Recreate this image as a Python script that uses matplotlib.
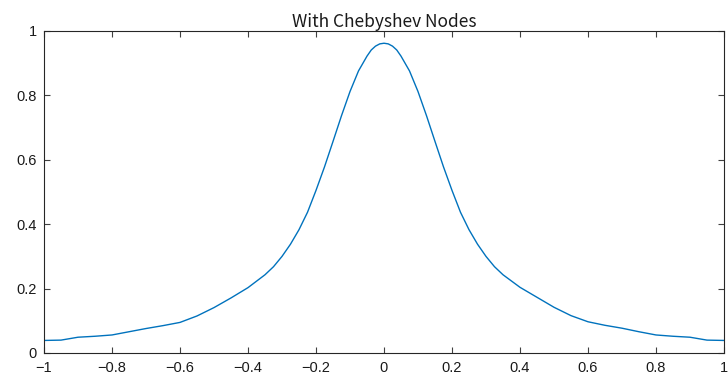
import matplotlib
matplotlib.use("Agg")
import matplotlib.pyplot as plt

# Interpolant of the Runge function sampled at Chebyshev nodes
x_vals = [-1.00, -0.95, -0.90, -0.85, -0.80, -0.75, -0.70, -0.65, -0.60, -0.55,
          -0.50, -0.45, -0.40, -0.35, -0.325, -0.30, -0.275, -0.25, -0.225, -0.20,
          -0.175, -0.15, -0.125, -0.10, -0.075, -0.05, -0.0375, -0.025, -0.0125, 0.00,
          0.0125, 0.025, 0.0375, 0.05, 0.075, 0.10, 0.125, 0.15, 0.175, 0.20, 0.225, 0.25,
          0.275, 0.30, 0.325, 0.35, 0.40, 0.45, 0.50, 0.55, 0.60, 0.65,
          0.70, 0.75, 0.80, 0.85, 0.90, 0.95, 1.00]
y_vals = [0.039, 0.040, 0.049, 0.052, 0.056, 0.066, 0.076, 0.085, 0.095, 0.115,
          0.141, 0.171, 0.203, 0.243, 0.268, 0.300, 0.338, 0.383, 0.437, 0.505,
          0.578, 0.657, 0.737, 0.812, 0.876, 0.922, 0.941, 0.953, 0.960, 0.962,
          0.960, 0.953, 0.941, 0.922, 0.876, 0.812, 0.737, 0.657, 0.578, 0.505, 0.437, 0.383,
          0.338, 0.300, 0.268, 0.243, 0.204, 0.173, 0.142, 0.116, 0.097, 0.086,
          0.077, 0.066, 0.056, 0.052, 0.049, 0.040, 0.039]

xticks = [-1, -0.8, -0.6, -0.4, -0.2, 0, 0.2, 0.4, 0.6, 0.8, 1]
xtick_labels = ["\u22121", "\u22120.8", "\u22120.6", "\u22120.4", "\u22120.2",
                "0", "0.2", "0.4", "0.6", "0.8", "1"]
yticks = [0, 0.2, 0.4, 0.6, 0.8, 1]
ytick_labels = ["0", "0.2", "0.4", "0.6", "0.8", "1"]

fig = plt.figure(figsize=(7.28, 3.85), dpi=100)
ax = fig.add_axes([44 / 728, 32 / 385, 680 / 728, 322 / 385])

ax.plot(x_vals, y_vals, color="#0072BD", lw=1.0)

ax.set_xlim(-1, 1)
ax.set_ylim(0, 1)
ax.set_xticks(xticks)
ax.set_xticklabels(xtick_labels, family="Liberation Sans", fontsize=10.5)
ax.set_yticks(yticks)
ax.set_yticklabels(ytick_labels, family="Liberation Sans", fontsize=10.5)
ax.tick_params(direction="in", length=4, width=0.8, color="#404040",
               top=True, right=True, labelcolor="#1a1a1a")
ax.tick_params(axis="x", pad=6)
ax.tick_params(axis="y", pad=5)
for s in ax.spines.values():
    s.set_color("#262626")
    s.set_linewidth(0.8)

ax.set_title("With Chebyshev Nodes", family=["Noto Sans CJK JP", "DejaVu Sans"],
             fontsize=12.5, pad=3, color="#1a1a1a")

fig.savefig("out.png", dpi=100)
